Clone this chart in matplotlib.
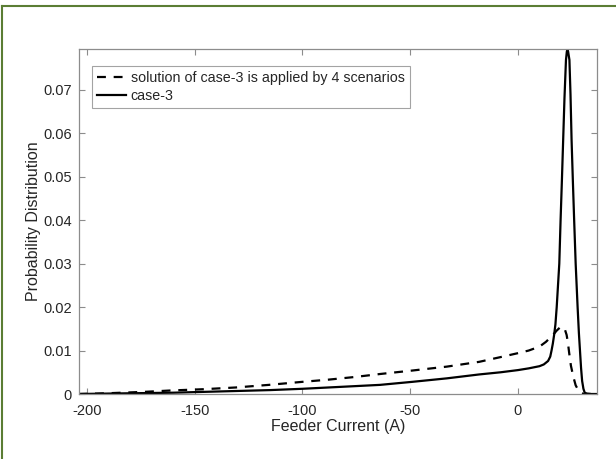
import numpy as np
import matplotlib.pyplot as plt
from matplotlib.lines import Line2D

plt.rcParams['font.family'] = ['Liberation Sans', 'DejaVu Sans']

# Probability distribution of the feeder current
x_case3 = [-204, -190, -175, -160, -145, -130, -115, -100, -88, -76, -64, -49, -33,
           -18, -8, 0, 5, 10, 12, 14, 15, 15.6, 16.2, 16.8, 17.4, 18.0, 18.6, 19.2,
           19.8, 20.4, 21.0, 21.6, 22.3, 22.7, 23.0, 23.3, 23.9, 24.4, 24.9, 25.5,
           26.1, 26.8, 27.7, 28.3, 28.8, 29.3, 29.8, 30.4, 31.0, 32, 34, 37]
y_case3 = [0.0, 0.0001, 0.0002, 0.0003, 0.0005, 0.0007, 0.0009, 0.0012, 0.0015,
           0.0018, 0.0021, 0.0028, 0.0036, 0.0045, 0.0050, 0.0055, 0.0059, 0.0064,
           0.0068, 0.0076, 0.0086, 0.0100, 0.0116, 0.0136, 0.0160, 0.0200, 0.0250,
           0.0300, 0.0400, 0.0490, 0.0585, 0.0680, 0.0769, 0.0788, 0.0794, 0.0788,
           0.0769, 0.0690, 0.0585, 0.0490, 0.0400, 0.0300, 0.0200, 0.0140, 0.0100,
           0.0060, 0.0030, 0.0012, 0.0003, 0.0001, 0.0, 0.0]

x_scen = [-204, -195, -189, -173, -161.5, -146, -131, -115.6, -100, -88, -76, -64,
          -49, -33, -18, -8, 0, 5, 10, 13, 16.3, 18, 19.5, 20.7, 21.7, 22.6, 23.2,
          23.8, 24.6, 25.7, 26.8, 28.0, 29.0, 30.6, 33, 37]
y_scen = [0.0, 0.0001, 0.0002, 0.0005, 0.0008, 0.0011, 0.0015, 0.0021, 0.0028,
          0.0033, 0.0039, 0.0046, 0.0054, 0.0063, 0.0074, 0.0085, 0.0094, 0.0100,
          0.0109, 0.0120, 0.0136, 0.0146, 0.0153, 0.0155, 0.0150, 0.0136, 0.0118,
          0.0094, 0.0065, 0.0040, 0.0020, 0.0009, 0.0003, 0.0, 0.0, 0.0]

xticks = [-200, -150, -100, -50, 0]
yticks = [0, 0.01, 0.02, 0.03, 0.04, 0.05, 0.06, 0.07]
ytick_labels = ['0', '0.01', '0.02', '0.03', '0.04', '0.05', '0.06', '0.07']

fig = plt.figure(figsize=(6.16, 4.59), dpi=100)
ax = fig.add_axes([79 / 616, 65 / 459, 518 / 616, 345 / 459])

ax.plot(x_scen, y_scen, color='black', lw=1.6, linestyle=(0, (4, 3.5)),
        label='solution of case-3 is applied by 4 scenarios')
ax.plot(x_case3, y_case3, color='black', lw=1.6, label='case-3')

ax.set_xlim(-203.7, 36.7)
ax.set_ylim(0, 0.0794)
ax.set_xticks(xticks)
ax.set_xticklabels([str(t) for t in xticks])
ax.set_yticks(yticks)
ax.set_yticklabels(ytick_labels)

ax.tick_params(direction='in', top=True, right=True, length=4, width=0.8,
               color='#8c8c8c', labelsize=10.5, labelcolor='#262626')
ax.tick_params(axis='x', pad=7)
ax.tick_params(axis='y', pad=5)
for s in ax.spines.values():
    s.set_color('#8c8c8c')
    s.set_linewidth(0.9)

ax.set_xlabel('Feeder Current (A)', fontsize=11.5, color='#262626', labelpad=1)
ax.set_ylabel('Probability Distribution', fontsize=11.5, color='#262626', labelpad=2)

leg = ax.legend(loc='upper left', bbox_to_anchor=(13 / 518, 1 - 17 / 345),
                borderaxespad=0, fontsize=10.3, frameon=True, fancybox=False,
                handlelength=2.0, handletextpad=0.35, labelspacing=0.25,
                borderpad=0.35, edgecolor='#8c8c8c')
leg.get_frame().set_linewidth(0.8)
for t in leg.get_texts():
    t.set_color('#262626')

# olive frame around the figure
fig.add_artist(Line2D([1.5 / 616, 1.5 / 616], [0, 1 - 6 / 459],
                      transform=fig.transFigure, color='#5b7d34', lw=1.5))
fig.add_artist(Line2D([1.5 / 616, 1], [1 - 6 / 459, 1 - 6 / 459],
                      transform=fig.transFigure, color='#5b7d34', lw=1.5))

fig.savefig('out.png', dpi=100)
